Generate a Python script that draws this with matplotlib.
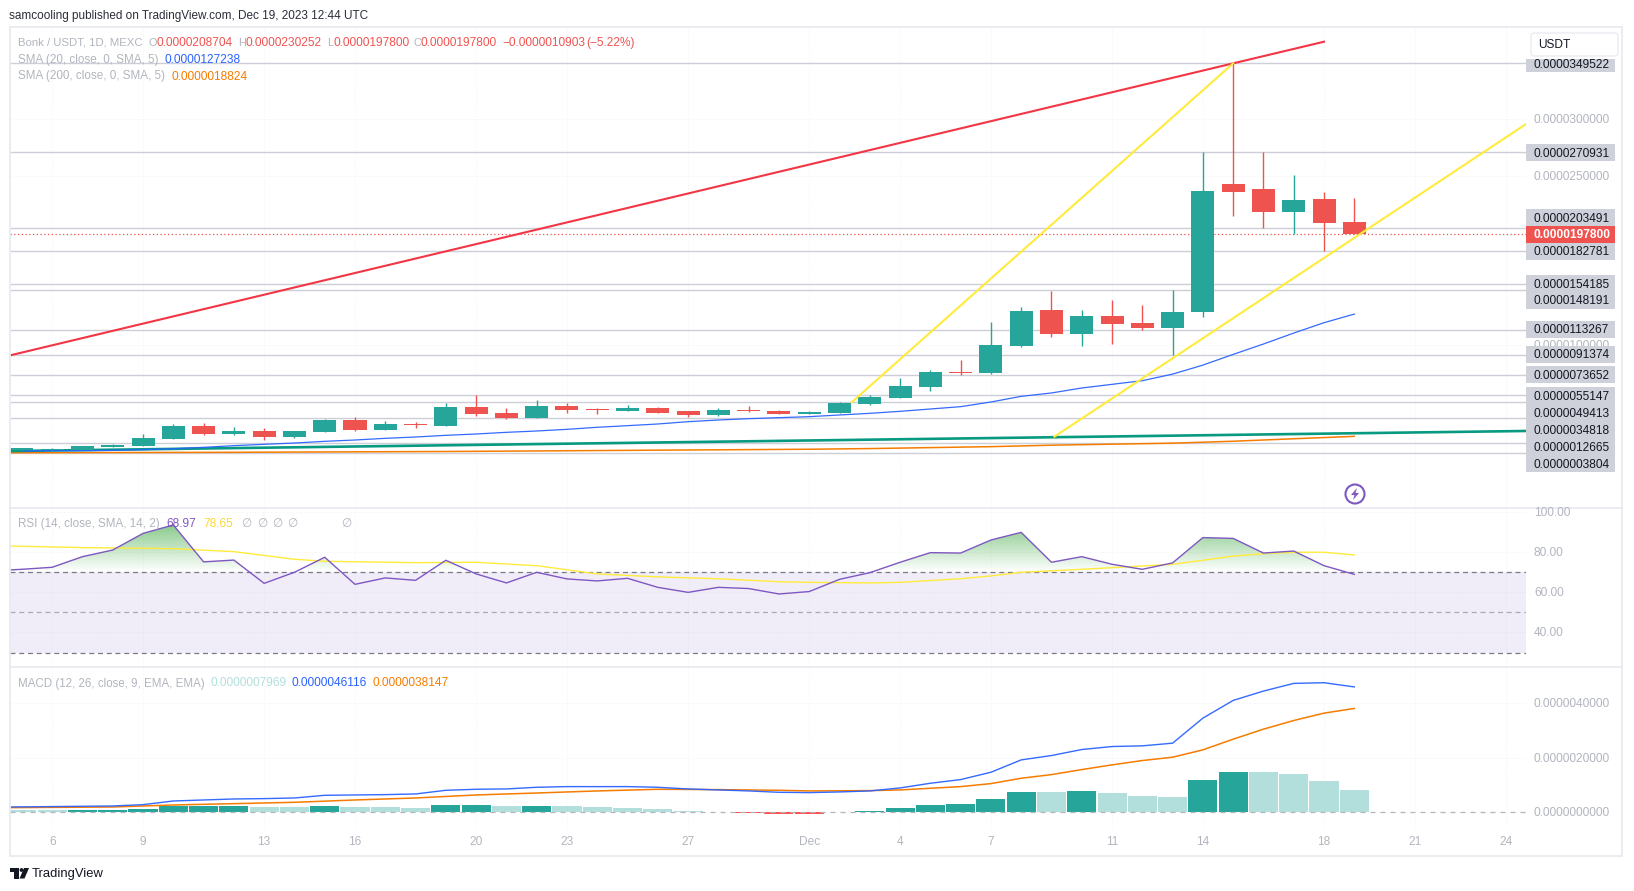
import numpy as np
import matplotlib
matplotlib.use("Agg")
import matplotlib.pyplot as plt
from matplotlib.patches import Rectangle, Polygon, Circle, FancyBboxPatch
from matplotlib.path import Path

W, H = 1634, 891
plt.rcParams["font.family"] = ["Liberation Sans", "DejaVu Sans"]

# prices are integers in units of 1e-10 USDT, days count from Nov 6
candle_days = list(range(-1, 44))
opens = [6740, 6800, 7000, 9104, 10286, 16493, 28016, 20924, 23584, 18264, 22697, 33335, 24470, 29789, 28016,
         44860, 39540, 35108, 45746, 43088, 41313, 43973, 41313, 37767, 42200, 41313, 38654, 39540, 47521, 52840,
         62595, 75889, 74995, 98938, 130852, 109576, 125533, 119327, 114895, 129400, 242550, 238100, 217700, 229250, 208704]
highs = [8513, 8800, 10286, 12059, 20924, 29789, 30675, 27130, 26243, 23584, 34222, 35996, 32448, 31562, 48405,
         55498, 43973, 51065, 48405, 43973, 46632, 44860, 41313, 43973, 45746, 42200, 41313, 49294, 55500, 70570,
         77660, 86527, 120214, 133512, 147695, 130852, 139717, 135285, 148191, 270931, 349522, 270931, 250500, 235500, 230252]
lows = [6740, 6500, 6900, 9104, 10286, 16493, 20038, 20038, 15605, 17378, 22697, 23584, 24470, 26243, 28016,
        36881, 34222, 35108, 39540, 38654, 41313, 39540, 35996, 36881, 40427, 38654, 38654, 39540, 46635, 52840,
        59045, 73230, 74120, 98050, 106916, 98938, 100711, 113122, 91374, 125000, 214500, 203491, 197800, 182781, 197800]
closes = [8513, 8000, 10286, 11173, 17378, 28016, 20924, 23584, 18264, 23584, 33335, 24470, 29789, 28903, 44860,
          38654, 35108, 45746, 42200, 42200, 43973, 39540, 37767, 42200, 41313, 38654, 40427, 48407, 53727, 63478,
          75889, 74995, 99824, 129965, 109576, 125533, 118441, 114895, 129079, 236600, 235460, 217700, 228400, 208250, 197800]

sma20 = [5850, 6150, 6150, 6450, 7040, 7922, 9104, 10582, 11763, 12946, 14423, 15605, 17082, 18264, 19742,
         20924, 22401, 23584, 25061, 26870, 28310, 29790, 31860, 33335, 34520, 35400, 36290, 37770, 39250, 41020,
         43090, 45150, 49290, 54300, 57300, 61700, 64950, 68200, 74000, 82000, 91500, 100700, 110400, 119600, 127238]
sma200_days = [-1.38, 6, 13, 16, 20, 25, 27, 31, 33, 37, 39, 41, 43]
sma200 = [4300, 4700, 5400, 5900, 6600, 7400, 8000, 9700, 11000, 12800, 14500, 16700, 18824]

levels = [349522, 270931, 203491, 182781, 154185, 148191, 113267, 91374, 73652, 55147, 49413, 34818, 12665, 3804]
price_ticks = [300000, 250000, 100000]
last_price = 197800

red_line_days = [-1.38, 39, 42]
red_line = [90700, 349522, 368700]
yellow1_days = [26.4, 39]
yellow1 = [49000, 349522]
yellow2_days = [33.1, 48.67]
yellow2 = [18600, 295700]
green_line_days = [-1.38, 48.67]
green_line = [5800, 23600]

rsi_days = [-1.38] + list(range(-1, 44))
rsi = [71.2, 71.5, 72.5, 77.8, 81.1, 89.4, 93.6, 75.2, 76.1, 64.5, 70.0, 77.5, 64.0, 67.2, 66.0, 76.0,
       69.2, 64.7, 70.0, 66.7, 65.7, 67.0, 62.5, 60.0, 62.5, 61.9, 59.2, 60.4, 66.5, 69.8, 75.0, 79.8,
       79.6, 86.1, 89.9, 75.0, 77.8, 74.0, 71.5, 74.7, 87.3, 86.9, 79.6, 80.6, 73.3, 68.97]
rsi_ma_days = [-1.38, 1, 4, 6, 8, 9, 12, 14, 16, 18, 20, 22, 24, 25, 27, 28, 30, 31, 32, 34, 35, 37, 38, 39, 40, 41, 42, 43]
rsi_ma = [83.1, 82.3, 81.8, 80.3, 76.5, 75.5, 74.8, 75.0, 73.3, 69.2, 67.7, 66.8, 65.3, 65.0, 64.7, 65.0, 66.8,
          68.2, 70.0, 71.5, 72.3, 74.0, 76.0, 78.1, 79.3, 80.0, 80.0, 78.65]

macd_hist = [500, 480, 500, 520, 860, 1950, 1970, 1990, 1620, 1600, 1970, 1620, 1600, 1240, 2340, 2360, 1980, 1990,
             1970, 1600, 1240, 860, 120, -100, -400, -850, -860, -200, 150, 1235, 2350, 2700, 4570, 7160, 7150,
             7530, 6790, 5680, 5310, 11610, 14570, 14500, 13830, 11240, 7969]
macd_days = [-1.38, 2] + list(range(3, 44))
macd = [1730, 2100, 2590, 3950, 4320, 4690, 4820, 5060, 6050, 6175, 6300, 6545, 7900, 8275, 8400, 9015, 9260, 9260,
        9260, 9015, 8400, 8030, 7660, 7160, 7040, 7290, 7660, 8770, 10500, 11860, 14570, 19140, 20750, 22970, 24080,
        24330, 25320, 34580, 41125, 44580, 47420, 47670, 46116]
signal_days = [-1.38, 2, 4, 6, 8, 10, 12, 14, 16, 18, 20, 22, 24, 25, 27, 28, 30, 31, 32, 33, 34, 35, 36, 37, 38, 39, 40, 41, 42, 43]
signal = [1480, 1730, 2470, 2960, 3460, 4320, 5060, 6175, 6900, 7660, 8275, 8150, 7900, 7660, 7780, 8030, 9260, 10370,
          12350, 13700, 15560, 17300, 18900, 20130, 22850, 26800, 30500, 33700, 36430, 38147]
macd_ticks = [40000, 20000, 0]

time_tick_days = [0, 3, 7, 10, 14, 17, 21, 25, 28, 31, 35, 38, 42, 45, 48]
time_tick_labels = ["6", "9", "13", "16", "20", "23", "27", "Dec", "4", "7", "11", "14", "18", "21", "24"]

GREEN = "#26a69a"
RED = "#ef5350"
LEVEL = "#ccced8"
GRAY = "#b2b5be"
SOFT = "#f2f3f7"
BLUE = "#2962ff"
ORANGE = "#f57c00"
PURPLE = "#7e57c2"
YELLOW = "#ffeb3b"

LEFT, RIGHT = 10.4, 1526
TOP, MAIN_B, RSI_B, MACD_B, FRAME_R, FRAME_B = 27, 507.5, 667, 828, 1622, 855.5
XLIM = (-1.38, 48.67)

# the price scale pushes crowded level labels apart, so they sit at their own heights
level_label_y = [63.6, 152.7, 217.8, 251, 283.7, 300.5, 329.3, 354.5, 374.7, 395.5, 412.7, 429.7, 446.7, 463.5]

fig = plt.figure(figsize=(W / 100, H / 100), dpi=100, facecolor="white")


def pane(top, bottom, ylim):
    ax = fig.add_axes([LEFT / W, 1 - bottom / H, (RIGHT - LEFT) / W, (bottom - top) / H])
    ax.set_xlim(*XLIM)
    ax.set_ylim(*ylim)
    ax.set_xticks(time_tick_days)
    ax.tick_params(left=False, bottom=False, labelleft=False, labelbottom=False)
    ax.grid(True, color=SOFT, lw=0.7, ls=":")
    ax.set_axisbelow(True)
    for s in ax.spines.values():
        s.set_visible(False)
    return ax


ax = pane(TOP, MAIN_B, (-44240, 381740))
ax_rsi = pane(MAIN_B, RSI_B, (22.8, 102.3))
ax_macd = pane(RSI_B, MACD_B, (-6040, 53480))

# price pane
ax.set_yticks(price_ticks)
ax.hlines(levels, *XLIM, color=LEVEL, lw=1.0, zorder=1)
ax.axhline(last_price, color=RED, lw=0.9, ls=(0, (1, 2)), zorder=1)
ax.plot(sma200_days, sma200, color=ORANGE, lw=1.1, zorder=2)
ax.plot(green_line_days, green_line, color="#089981", lw=1.9, zorder=2)
ax.plot(candle_days, sma20, color=BLUE, lw=0.9, alpha=0.95, zorder=2)
for d, o, h, l, c in zip(candle_days, opens, highs, lows, closes):
    col = GREEN if c >= o else RED
    ax.vlines(d, l, h, color=col, lw=1.0, zorder=3)
    ax.bar(d, abs(c - o), bottom=min(o, c), width=0.76, color=col, zorder=3)
ax.plot(red_line_days, red_line, color="#f23645", lw=1.5, zorder=4)
ax.plot(yellow1_days, yellow1, color=YELLOW, lw=1.5, zorder=4)
ax.plot(yellow2_days, yellow2, color=YELLOW, lw=1.5, zorder=4)

# rsi pane
ax_rsi.set_yticks([100, 80, 60, 40])
ax_rsi.axhspan(30, 70, color=PURPLE, alpha=0.1, lw=0, zorder=1)
for lev, col in [(70, "#787b86"), (50, "#a9abb4"), (30, "#787b86")]:
    ax_rsi.axhline(lev, color=col, lw=0.9, ls=(0, (4, 3)), zorder=2)
rsi_arr = np.array(rsi)
over = ax_rsi.fill_between(rsi_days, rsi_arr, 70, where=rsi_arr > 70, interpolate=True, facecolor="none", lw=0)
grad = np.zeros((120, 2, 4))
grad[..., :3] = matplotlib.colors.to_rgb("#4caf50")
grad[..., 3] = np.linspace(0.85, 0, 120)[:, None]
im = ax_rsi.imshow(grad, extent=(XLIM[0], XLIM[1], 70, 100), aspect="auto", zorder=2, interpolation="bilinear")
im.set_clip_path(Path.make_compound_path(*over.get_paths()), transform=ax_rsi.transData)
ax_rsi.set_xlim(*XLIM)
ax_rsi.set_ylim(22.8, 102.3)
ax_rsi.plot(rsi_ma_days, rsi_ma, color=YELLOW, lw=1.0, zorder=3)
ax_rsi.plot(rsi_days, rsi, color=PURPLE, lw=1.0, zorder=4)

# macd pane
ax_macd.set_yticks(macd_ticks)
hist_colors = []
prev = macd_hist[0] + 1
for v in macd_hist:
    if v >= 0:
        hist_colors.append(GREEN if v > prev else "#b2dfdb")
    else:
        hist_colors.append("#ff5252" if v < prev else "#ffcdd2")
    prev = v
ax_macd.bar(candle_days, macd_hist, width=0.96, color=hist_colors, zorder=2)
ax_macd.axhline(0, color=GRAY, lw=0.9, ls=(0, (4, 4)), zorder=3)
ax_macd.plot(signal_days, signal, color=ORANGE, lw=1.1, zorder=4)
ax_macd.plot(macd_days, macd, color=BLUE, lw=1.0, alpha=0.95, zorder=5)

# frame, scale labels and legends live on a pixel-sized overlay
ov = fig.add_axes([0, 0, 1, 1], zorder=10)
ov.set_xlim(0, W)
ov.set_ylim(H, 0)
ov.axis("off")


def py(a, v):
    return H - a.transData.transform((0, v))[1]


def px(a, d):
    return a.transData.transform((d, 0))[0]


def put(x, y, s, color=GRAY, size=8.6, **kw):
    ov.text(x, y + 1, s, color=color, fontsize=size, va="center", **kw)


FRAME = "#e9ebf1"
for y in (TOP, MAIN_B, RSI_B, FRAME_B):
    ov.plot([LEFT, FRAME_R], [y, y], color=FRAME, lw=1.3)
for x in (LEFT, FRAME_R):
    ov.plot([x, x], [TOP, FRAME_B], color=FRAME, lw=1.3)

LABEL_X = 1534
for v in price_ticks:
    put(LABEL_X, py(ax, v), f"{v / 1e10:.10f}")
for v in [100, 80, 60, 40]:
    put(LABEL_X, py(ax_rsi, v), f"{v:.2f}")
for v in macd_ticks:
    put(LABEL_X, py(ax_macd, v), f"{v / 1e10:.10f}")

for y in level_label_y:
    ov.add_patch(Rectangle((RIGHT, y - 8.6), 89, 17.2, fc="#ced1da", ec="none", zorder=3))
for v, y in zip(levels, level_label_y):
    put(LABEL_X, y, f"{v / 1e10:.10f}", color="#131722", zorder=4)
y = py(ax, last_price)
ov.add_patch(Rectangle((RIGHT, y - 8.6), 89, 17.2, fc=RED, ec="none", zorder=5))
put(LABEL_X, y, f"{last_price / 1e10:.10f}", color="white", fontweight="bold", zorder=6)

# currency button sits on top of the highest level label
ov.add_patch(Rectangle((RIGHT, 28), 92, 31, fc="white", ec="none", zorder=7))
ov.add_patch(FancyBboxPatch((1531, 33), 87, 23, boxstyle="round,pad=0,rounding_size=3", fc="white", ec="#e8eaf0", lw=0.9, zorder=8))
put(1538, 43.5, "USDT", color="#131722", zorder=9)

for d, lab in zip(time_tick_days, time_tick_labels):
    put(px(ax, d), 841, lab, ha="center")

put(9.5, 14.6, "samcooling published on TradingView.com, Dec 19, 2023 12:44 UTC", color="#2a2e39", size=8.5)

put(18, 41.7, "Bonk / USDT, 1D, MEXC", size=8.2)
for x, s in [(149, "O"), (238, "H"), (327, "L"), (414, "C")]:
    put(x, 41.7, s, size=7.9)
for x, s in [(157, "0.0000208704"), (246, "0.0000230252"), (334, "0.0000197800"), (421, "0.0000197800"),
             (502, "\u22120.0000010903"), (586, "(\u22125.22%)")]:
    put(x, 41.7, s, color=RED)
put(18, 59, "SMA (20, close, 0, SMA, 5)", size=8.4)
put(165, 59, "0.0000127238", color=BLUE)
put(18, 75.5, "SMA (200, close, 0, SMA, 5)", size=8.4)
put(172, 75.5, "0.0000018824", color=ORANGE)

put(18, 523, "RSI (14, close, SMA, 14, 2)", size=8.4)
put(166, 523, "68.97", color=PURPLE)
put(203, 523, "78.65", color="#fdd835")
for x in (241, 257, 272, 287, 341):
    put(x, 523, "\u2205")

put(18, 682.5, "MACD (12, 26, close, 9, EMA, EMA)", size=8.3)
put(211, 682.5, "0.0000007969", color="#b2dfdb")
put(292, 682.5, "0.0000046116", color=BLUE)
put(373, 682.5, "0.0000038147", color=ORANGE)

# lightning badge
ov.add_patch(Circle((1355, 494), 9.5, fc="white", ec=PURPLE, lw=1.5, zorder=5))
ov.add_patch(Polygon([(1357, 488), (1351, 495), (1354.5, 495), (1353, 500), (1359, 493), (1355.5, 493)], fc=PURPLE, ec="none", zorder=6))

# logo and wordmark
ov.add_patch(Polygon([(10, 868), (19, 868), (19, 878.5), (14.5, 878.5), (14.5, 872), (10, 872)], fc="#131722", ec="none"))
ov.add_patch(Circle((21.5, 870), 1.9, fc="#131722", ec="none"))
ov.add_patch(Polygon([(24, 868), (29, 868), (24.5, 878.5), (19.5, 878.5)], fc="#131722", ec="none"))
put(32, 873, "TradingView", color="#131722", size=9.4)

fig.savefig("out.png", dpi=100, facecolor="white")
